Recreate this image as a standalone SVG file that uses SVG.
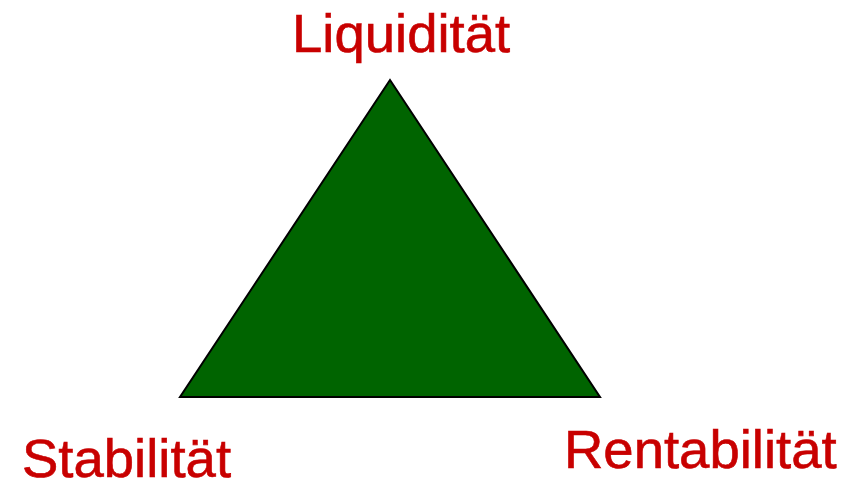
<svg xmlns="http://www.w3.org/2000/svg" width="847" height="481" viewBox="0 0 847 481">
  <style>
    .lbl { font-family: "Liberation Sans", Arial, sans-serif; font-size: 54.5px; fill: #C80000; stroke: #C80000; stroke-width: 0.6; }
    .tri { fill: #006400; stroke: #000000; stroke-width: 2; stroke-linejoin: miter; }
  </style>
  <rect width="847" height="481" fill="#FFFFFF"/>
  <g id="triangle">
    <polygon class="tri" points="390,80 180,397 600,397"/>
  </g>
  <g id="connectors"></g>
  <g id="liquiditaet">
    <text class="lbl" x="292" y="52">Liquidität</text>
  </g>
  <g id="stabilitaet">
    <text class="lbl" x="22" y="477">Stabilität</text>
  </g>
  <g id="rentabilitaet">
    <text class="lbl" x="564" y="468">Rentabilität</text>
  </g>
</svg>
